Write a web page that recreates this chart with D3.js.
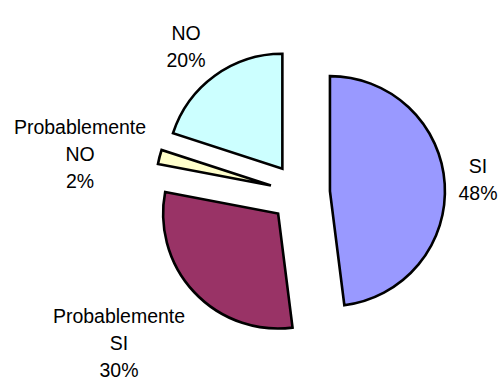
<!DOCTYPE html>
<html>
<head>
<meta charset="utf-8">
<script src="https://cdn.jsdelivr.net/npm/d3@7"></script>
<style>
  html, body { margin: 0; padding: 0; background: #fff; }
  svg { display: block; }
  text { font-family: "Liberation Sans", Arial, sans-serif; fill: #000; }
</style>
</head>
<body>
<svg id="chart" width="499" height="381"></svg>
<script>
// Survey answers, clockwise from 12 o'clock
const categories = ["SI", "Probablemente SI", "Probablemente NO", "NO"];
const labelLines = [["SI"], ["Probablemente", "SI"], ["Probablemente", "NO"], ["NO"]];
const values = [48, 30, 2, 20];
const colors = ["#9999FF", "#993366", "#FFFFCC", "#CCFFFF"];

const W = 499, H = 381;
const cx = 300, cy = 193, radius = 115, explode = 30;
// label block centres, relative to the pie centre
const labelOffsets = [[178, -13], [-181, 150], [-220, -39], [-114, -146]];
const fontSize = 19.5, lineGap = 27;

const svg = d3.select("#chart");
const g = svg.append("g").attr("transform", `translate(${cx},${cy})`);

const pie = d3.pie().sort(null).value(d => d);
const arcs = pie(values);
const arc = d3.arc().innerRadius(0).outerRadius(radius);

g.selectAll("path.slice")
  .data(arcs)
  .join("path")
  .attr("class", "slice")
  .attr("d", arc)
  .attr("transform", d => {
    const mid = (d.startAngle + d.endAngle) / 2;
    return `translate(${explode * Math.sin(mid)},${-explode * Math.cos(mid)})`;
  })
  .attr("fill", (d, i) => colors[i])
  .attr("stroke", "#000")
  .attr("stroke-width", 2.6)
  .attr("stroke-linejoin", "miter");

const total = d3.sum(values);
const labels = g.selectAll("text.lbl")
  .data(arcs)
  .join("text")
  .attr("class", "lbl")
  .attr("text-anchor", "middle")
  .attr("font-size", fontSize)
  .attr("transform", (d, i) => `translate(${labelOffsets[i][0]},${labelOffsets[i][1]})`);

labels.each(function (d, i) {
  const lines = labelLines[i].concat([Math.round(d.data / total * 100) + "%"]);
  const n = lines.length;
  d3.select(this).selectAll("tspan")
    .data(lines)
    .join("tspan")
    .attr("x", 0)
    .attr("y", (t, k) => (k - (n - 1) / 2) * lineGap)
    .attr("dy", "0.35em")
    .text(t => t);
});
</script>
</body>
</html>
